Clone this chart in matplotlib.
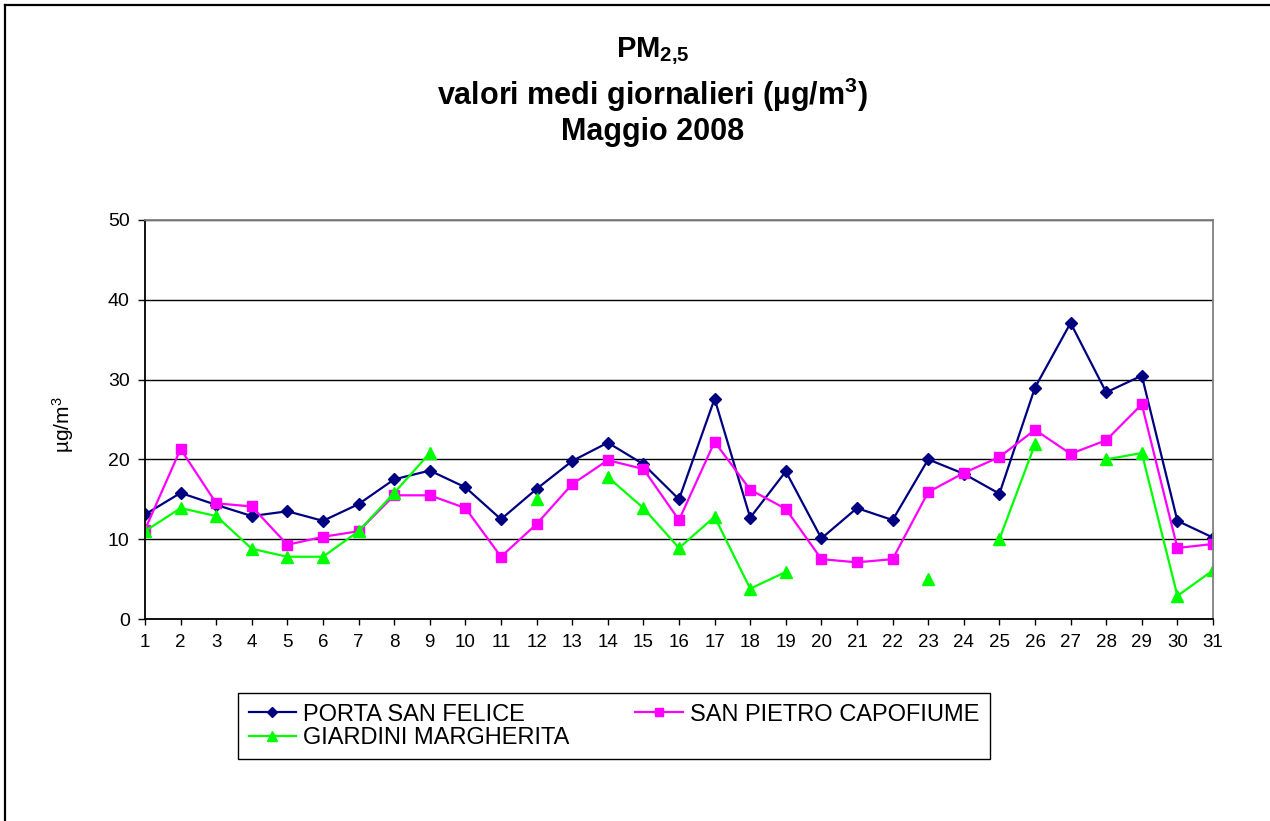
#Daily PM2.5 averages, May 2008, three monitoring stations

import numpy as np
import matplotlib as mpl
mpl.use('Agg')
import matplotlib.pyplot as plt
from matplotlib.lines import Line2D

nan = np.nan

#Days of the month
days = list(range(1,32))

#Station values (ug/m3), nan where the station gave no value
porta_san_felice = [13.1,15.8,14.3,12.9,13.5,12.3,14.4,17.5,18.6,16.5,12.5,16.3,19.8,22.1,19.4,15.0,
                    27.6,12.7,18.5,10.1,13.9,12.4,20.0,18.2,15.7,29.0,37.1,28.4,30.5,12.3,10.2]
san_pietro_capofiume = [11.2,21.3,14.5,14.1,9.3,10.3,11.0,15.5,15.5,13.9,7.8,11.9,16.9,19.9,18.8,12.4,
                        22.2,16.2,13.8,7.5,7.1,7.5,15.9,18.3,20.3,23.7,20.7,22.4,26.9,8.9,9.4]
giardini_margherita = [11.0,13.9,12.9,8.8,7.8,7.8,11.0,15.8,20.8,nan,nan,15.0,nan,17.8,13.9,8.9,
                       12.8,3.8,5.9,nan,nan,nan,5.0,nan,10.0,21.9,nan,20.0,20.8,2.9,6.1]

station_names = ['PORTA SAN FELICE','SAN PIETRO CAPOFIUME','GIARDINI MARGHERITA']
yticks = [0,10,20,30,40,50]

#Fonts
plt.rcParams['font.family'] = ['Liberation Sans','DejaVu Sans']
plt.rcParams['mathtext.fontset'] = 'custom'
plt.rcParams['mathtext.rm'] = 'Liberation Sans'
plt.rcParams['mathtext.bf'] = 'Liberation Sans:bold'
plt.rcParams['mathtext.it'] = 'Liberation Sans:italic'

W,H = 1270,821
fig = plt.figure(figsize=(W/100,H/100),dpi=100)
ax = fig.add_axes([145/W,(H-619)/H,(1213-145)/W,(619-220)/H])

#Plotting
l1, = ax.plot(days,porta_san_felice,color='#000080',linewidth=1.6,marker='D',markersize=6.5,label=station_names[0])
l2, = ax.plot(days,san_pietro_capofiume,color='#FF00FF',linewidth=1.6,marker='s',markersize=7.5,label=station_names[1])
l3, = ax.plot(days,giardini_margherita,color='#00FF00',linewidth=1.6,marker='^',markersize=9,label=station_names[2])

#Axes
ax.set_xlim(1,31)
ax.set_ylim(0,50)
ax.set_xticks(days)
ax.set_xticklabels([str(d) for d in days])
ax.set_yticks(yticks)
ax.yaxis.grid(True,color='black',linewidth=1.0)
ax.set_axisbelow(True)
ax.tick_params(axis='x',labelsize=13.5,direction='out',length=4,width=1,pad=7)
ax.tick_params(axis='y',labelsize=14,direction='out',length=5,width=1,pad=6)
for side in ['left','bottom']:
    ax.spines[side].set_color('black')
    ax.spines[side].set_linewidth(1.3)
for side in ['right','top']:
    ax.spines[side].set_color('#808080')
    ax.spines[side].set_linewidth(1.3)

#y label
fig.text(63/W,1-425/H,r'µg/m$^3$',rotation=90,ha='center',va='center',fontsize=15)

#Title, three lines
tx = 653/W
fig.text(tx,1-57/H,r'PM$_{\mathbf{2{,}5}}$',ha='center',va='baseline',fontsize=21,fontweight='bold')
fig.text(tx,1-105/H,r'valori medi giornalieri (µg/m$^{\mathbf{3}}$)',ha='center',va='baseline',fontsize=22,fontweight='bold')
fig.text(tx,1-140/H,'Maggio 2008',ha='center',va='baseline',fontsize=22,fontweight='bold')

#Legend, filled row by row
leg = fig.legend([l1,l3,l2],[station_names[0],station_names[2],station_names[1]],ncol=2,
                 loc='upper left',bbox_to_anchor=(238/W,1-693/H),borderaxespad=0,
                 fontsize=17,frameon=True,fancybox=False,framealpha=1,edgecolor='black',
                 handlelength=2.0,handletextpad=0.3,columnspacing=2.8,borderpad=0.45,
                 labelspacing=0.05,markerscale=0.75)
leg.get_frame().set_linewidth(1.0)

#Page border (top and left edges of the frame)
fig.add_artist(Line2D([5/W,1.0],[1-5.5/H,1-5.5/H],color='black',linewidth=1.6))
fig.add_artist(Line2D([5/W,5/W],[0.0,1-5.5/H],color='black',linewidth=1.6))

#Save figure
plt.savefig('out.png',dpi=100)
plt.close()
